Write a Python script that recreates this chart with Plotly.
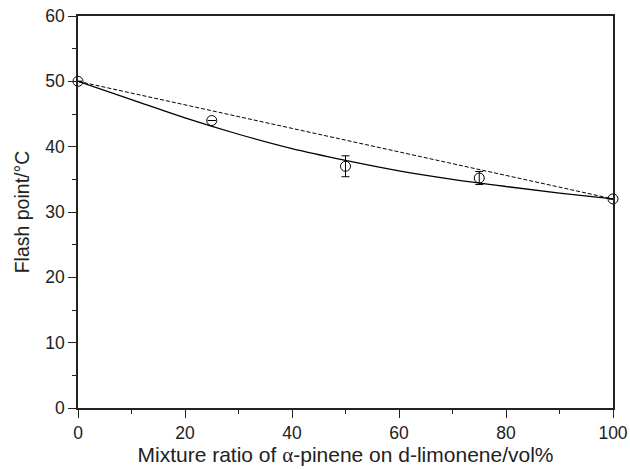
import plotly.graph_objects as go

# Experimental data
ratio = [0, 25, 50, 75, 100]
flash = [50, 44, 37, 35.2, 32]
err = [0, 0, 1.6, 1.0, 0]

# Predicted curve (solid)
curve_x = [0, 10, 20, 30, 40, 50, 60, 70, 80, 90, 100]
curve_y = [50, 47.2, 44.4, 41.9, 39.7, 37.9, 36.3, 35.0, 33.9, 32.9, 32]

# Linear (dashed) line
lin_x = [0, 100]
lin_y = [50, 32]

fig = go.Figure()
fig.add_trace(go.Scatter(x=lin_x, y=lin_y, mode="lines",
                         line=dict(color="black", width=1, dash="4px,2px"),
                         showlegend=False))
fig.add_trace(go.Scatter(x=curve_x, y=curve_y, mode="lines",
                         line=dict(color="black", width=1.3, shape="spline"),
                         showlegend=False))
fig.add_trace(go.Scatter(x=ratio, y=flash, mode="markers",
                         marker=dict(symbol="circle-open", size=10,
                                     color="black", line=dict(width=1)),
                         error_y=dict(type="data", array=err, visible=True,
                                      color="black", thickness=1, width=4),
                         showlegend=False, cliponaxis=False))

font_family = "Liberation Sans, Arial, Helvetica, sans-serif"
fig.update_layout(
    width=630, height=469,
    margin=dict(l=78, r=17, t=16, b=61, autoexpand=False),
    paper_bgcolor="white", plot_bgcolor="white",
    font=dict(family=font_family, size=17.5, color="#222"),
    xaxis=dict(range=[0, 100], dtick=20, tick0=0, automargin=False,
               ticks="outside", ticklen=8, tickwidth=1.3, tickcolor="#222",
               showline=True, linecolor="#222", linewidth=1.5, mirror=True,
               showgrid=False, zeroline=False,
               minor=dict(dtick=10, ticks="outside", ticklen=4, tickwidth=1.3, tickcolor="#222"),
               tickfont=dict(size=17.5),
               title=dict(text="Mixture ratio of <span style=\"font-family:'Liberation Serif', serif\">α</span>-pinene on d-limonene/vol%",
                          font=dict(size=21), standoff=2)),
    yaxis=dict(range=[0, 60], dtick=10, tick0=0, automargin=False,
               ticks="outside", ticklen=8, tickwidth=1.3, tickcolor="#222",
               showline=True, linecolor="#222", linewidth=1.5, mirror=True,
               showgrid=False, zeroline=False,
               minor=dict(dtick=5, ticks="outside", ticklen=4, tickwidth=1.3, tickcolor="#222"),
               tickfont=dict(size=17.5),
               title=dict(text="Flash point/°C", font=dict(size=19.5), standoff=10)),
)

fig.write_html("out.html")
